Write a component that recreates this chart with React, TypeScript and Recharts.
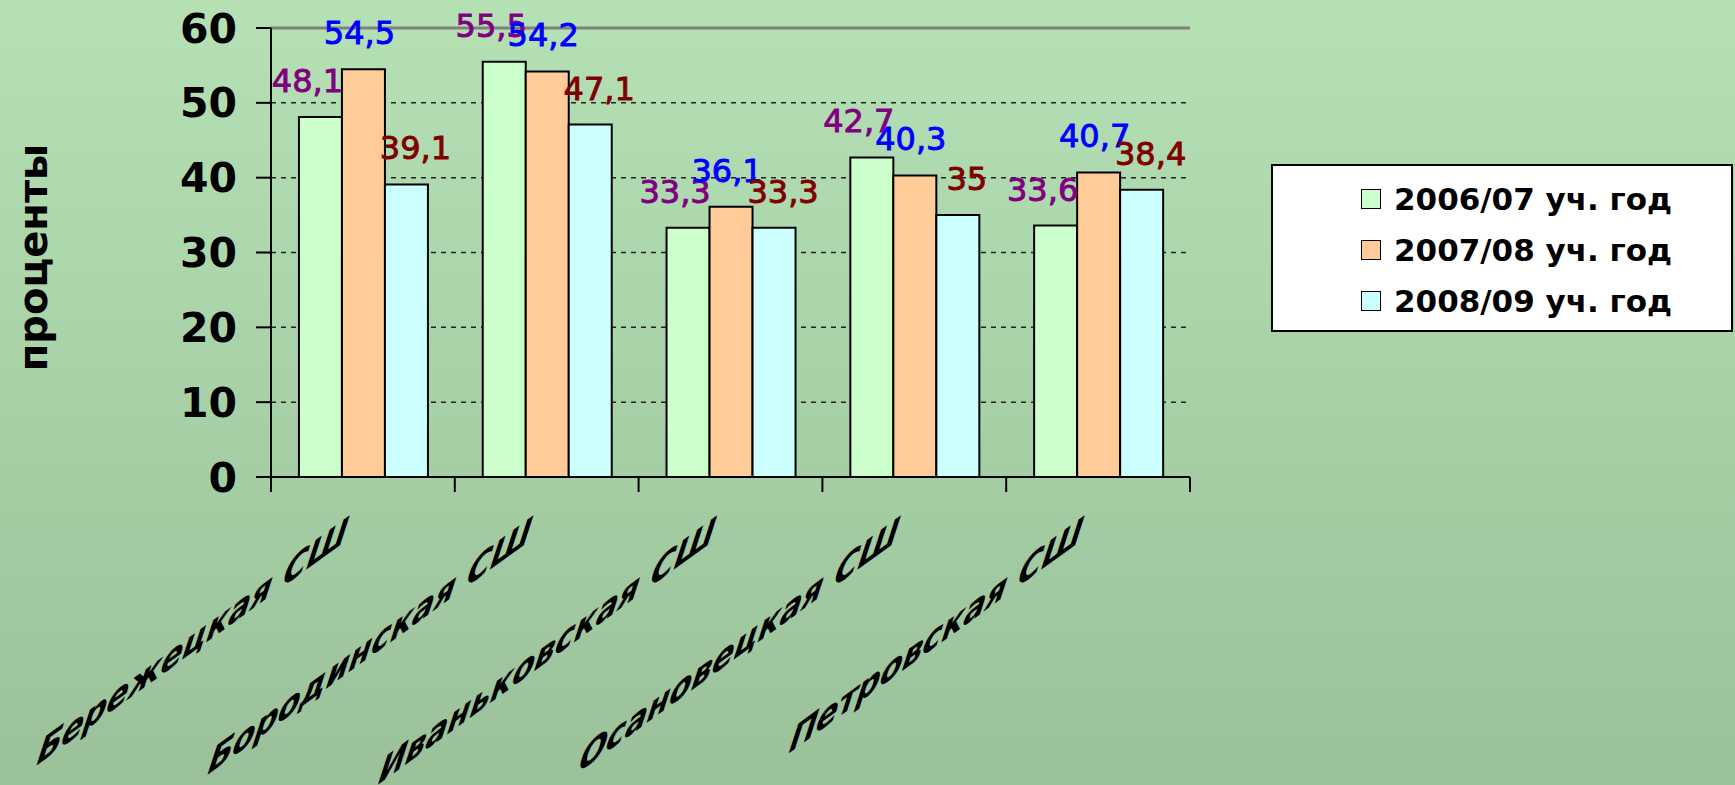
import React from "react";
import {
  BarChart,
  Bar,
  XAxis,
  YAxis,
  CartesianGrid,
  ReferenceLine,
  LabelList,
} from "recharts";

// schools along the x axis
const CATEGORIES = [
  "Бережецкая СШ",
  "Бородинская СШ",
  "Иваньковская СШ",
  "Осановецкая СШ",
  "Петровская СШ",
];

const SERIES_NAMES = ["2006/07 уч. год", "2007/08 уч. год", "2008/09 уч. год"];

// percent values per school year
const VALUES_2006 = [48.1, 55.5, 33.3, 42.7, 33.6];
const VALUES_2007 = [54.5, 54.2, 36.1, 40.3, 40.7];
const VALUES_2008 = [39.1, 47.1, 33.3, 35, 38.4];

const Y_TICKS = [0, 10, 20, 30, 40, 50, 60];

const BAR_COLORS = ["#CCFFCC", "#FFCC99", "#CCFFFF"];
const LABEL_COLORS = ["#800080", "#0000FF", "#800000"];
const LABEL_DX = [-13, -4, 9];

const FONT = "'DejaVu Sans', Verdana, sans-serif";

const W = 1735;
const H = 785;
const PLOT_LEFT = 271;
const PLOT_RIGHT = 1190;
const PLOT_TOP = 28;
const PLOT_BOTTOM = 477;
const Y_AXIS_W = 80;
const X_AXIS_H = 100;
const BAND = (PLOT_RIGHT - PLOT_LEFT) / CATEGORIES.length;

// the category names are drawn slanted and slightly sheared, as in the source slide
const BASE_ANGLE = (36 * Math.PI) / 180;
const STROKE_ANGLE = (72 * Math.PI) / 180;
const STROKE_SCALE = 1.08;
const LBL_A = Math.cos(BASE_ANGLE);
const LBL_B = -Math.sin(BASE_ANGLE);
const LBL_C = -Math.cos(STROKE_ANGLE) * STROKE_SCALE;
const LBL_D = Math.sin(STROKE_ANGLE) * STROKE_SCALE;

const data = CATEGORIES.map((name, i) => ({
  name,
  s0: VALUES_2006[i],
  s1: VALUES_2007[i],
  s2: VALUES_2008[i],
}));

const fmt = (v: any) => String(v).replace(".", ",");

const XTick = (props: any) => {
  const { x, payload, index } = props;
  const half = payload && payload.offset ? payload.offset : BAND / 2;
  const ex = x - 20;
  const ey = PLOT_BOTTOM + 66;
  return (
    <g>
      <line
        x1={x - half}
        y1={PLOT_BOTTOM}
        x2={x - half}
        y2={PLOT_BOTTOM + 15}
        stroke="#000"
        strokeWidth={2}
      />
      {index === CATEGORIES.length - 1 && (
        <line
          x1={x + half}
          y1={PLOT_BOTTOM}
          x2={x + half}
          y2={PLOT_BOTTOM + 15}
          stroke="#000"
          strokeWidth={2}
        />
      )}
      <text
        transform={`matrix(${LBL_A},${LBL_B},${LBL_C},${LBL_D},${ex},${ey})`}
        textAnchor="end"
        fontFamily={FONT}
        fontWeight="bold"
        fontSize={40}
        fill="#000"
      >
        {payload.value}
      </text>
    </g>
  );
};

const YTitle = (props: any) => {
  const vb = props.viewBox || { y: PLOT_TOP, height: PLOT_BOTTOM - PLOT_TOP };
  const cy = vb.y + vb.height / 2 + 5;
  return (
    <text
      transform={`translate(33,${cy}) rotate(-90)`}
      textAnchor="middle"
      dominantBaseline="central"
      fontFamily={FONT}
      fontWeight="bold"
      fontSize={40}
      fill="#000"
    >
      проценты
    </text>
  );
};

const Legend = () => (
  <div
    style={{
      position: "absolute",
      left: 1271,
      top: 164,
      width: 462,
      height: 168,
      boxSizing: "border-box",
      background: "#fff",
      border: "2px solid #000",
      fontFamily: FONT,
      fontWeight: "bold",
      fontSize: 31,
      color: "#000",
      paddingTop: 7,
    }}
  >
    {SERIES_NAMES.map((name, i) => (
      <div
        key={name}
        style={{
          display: "flex",
          alignItems: "center",
          height: 51,
          paddingLeft: 88,
        }}
      >
        <span
          style={{
            width: 18,
            height: 18,
            background: BAR_COLORS[i],
            border: "1.5px solid #000",
            marginRight: 13,
          }}
        />
        <span style={{ whiteSpace: "nowrap" }}>{name}</span>
      </div>
    ))}
  </div>
);

export default function App() {
  return (
    <div
      style={{
        position: "absolute",
        left: 0,
        top: 0,
        width: W,
        height: H,
        overflow: "hidden",
        background: "linear-gradient(to bottom, #b5e1b5 0%, #9bc19a 100%)",
      }}
    >
      <BarChart
        width={W}
        height={H}
        data={data}
        margin={{
          top: PLOT_TOP,
          right: W - PLOT_RIGHT,
          bottom: H - PLOT_BOTTOM - X_AXIS_H,
          left: PLOT_LEFT - Y_AXIS_W,
        }}
        barCategoryGap="15.2%"
        barGap={0}
      >
        <CartesianGrid
          vertical={false}
          stroke="#222"
          strokeWidth={1.5}
          strokeDasharray="5 5"
          yAxisId="left"
        />
        <XAxis
          dataKey="name"
          height={X_AXIS_H}
          interval={0}
          tickLine={false}
          axisLine={{ stroke: "#000", strokeWidth: 2 }}
          tick={<XTick />}
        />
        <YAxis
          yAxisId="left"
          width={Y_AXIS_W}
          domain={[0, 60]}
          ticks={Y_TICKS}
          allowDataOverflow
          tickSize={15}
          tickMargin={19}
          tickLine={{ stroke: "#000", strokeWidth: 2 }}
          axisLine={{ stroke: "#000", strokeWidth: 2 }}
          tick={{ fill: "#000", fontSize: 41, fontWeight: "bold", fontFamily: FONT }}
          label={<YTitle />}
        />
        <YAxis
          yAxisId="right"
          orientation="right"
          width={0}
          domain={[0, 60]}
          tick={false}
          tickLine={false}
          axisLine={{ stroke: "#808080", strokeWidth: 3 }}
        />
        <ReferenceLine yAxisId="left" y={60} stroke="#808080" strokeWidth={3} />
        {["s0", "s1", "s2"].map((key, i) => (
          <Bar
            key={key}
            yAxisId="left"
            dataKey={key}
            name={SERIES_NAMES[i]}
            fill={BAR_COLORS[i]}
            stroke="#000"
            strokeWidth={2}
            isAnimationActive={false}
          >
            <LabelList
              dataKey={key}
              position="top"
              offset={25}
              dx={LABEL_DX[i]}
              formatter={fmt}
              fill={LABEL_COLORS[i]}
              stroke={LABEL_COLORS[i]}
              strokeWidth={0.9}
              fontSize={32}
              fontFamily={FONT}
            />
          </Bar>
        ))}
      </BarChart>
      <Legend />
    </div>
  );
}
